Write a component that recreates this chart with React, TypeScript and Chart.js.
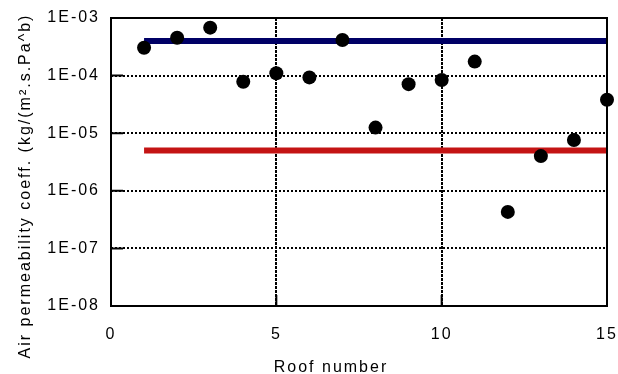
import React, { useEffect, useRef } from "react";
import { Chart, registerables } from "chart.js";

Chart.register(...registerables);

const roofNumbers = [1, 2, 3, 4, 5, 6, 7, 8, 9, 10, 11, 12, 13, 14, 15];
const permeability = [
  3.05e-4, 4.55e-4, 6.8e-4, 7.8e-5, 1.1e-4, 9.3e-5, 4.15e-4, 1.25e-5,
  7.1e-5, 8.4e-5, 1.75e-4, 4.3e-7, 4.0e-6, 7.6e-6, 3.8e-5,
];
const upperLimitX = [1, 15];
const upperLimitY = [4e-4, 4e-4];
const lowerLimitX = [1, 15];
const lowerLimitY = [5e-6, 5e-6];
const yTicks = [1e-8, 1e-7, 1e-6, 1e-5, 1e-4, 1e-3];
const xTicks = [0, 5, 10, 15];
const xTitle = "Roof number";
const yTitle = "Air permeability coeff. (kg/(m\u00B2.s.Pa^b)";

const FONT = "'Liberation Sans', Arial, sans-serif";

export default function App() {
  const ref = useRef<HTMLCanvasElement | null>(null);

  useEffect(() => {
    document.body.style.margin = "0";
    const canvas = ref.current!;
    const spacing = {
      id: "spacing",
      beforeInit(chart: any) {
        (chart.ctx as any).letterSpacing = "2px";
      },
      beforeUpdate(chart: any) {
        (chart.ctx as any).letterSpacing = "2px";
      },
      beforeDraw(chart: any) {
        (chart.ctx as any).letterSpacing = "2px";
      },
    };
    const frame = {
      id: "frame",
      afterDraw(chart: any) {
        const { ctx, chartArea: a, scales } = chart;
        ctx.save();
        ctx.strokeStyle = "#000";
        ctx.lineWidth = 2;
        ctx.setLineDash([]);
        ctx.strokeRect(a.left, a.top, a.right - a.left, a.bottom - a.top);
        ctx.beginPath();
        yTicks.forEach((v) => {
          const y = scales.y.getPixelForValue(v);
          ctx.moveTo(a.left, y);
          ctx.lineTo(a.left + 12, y);
        });
        xTicks.forEach((v) => {
          const x = scales.x.getPixelForValue(v);
          ctx.moveTo(x, a.bottom);
          ctx.lineTo(x, a.bottom - 11);
        });
        ctx.stroke();
        (ctx as any).letterSpacing = "2px";
        ctx.fillStyle = "#000";
        ctx.font = `16px ${FONT}`;
        ctx.textAlign = "center";
        ctx.textBaseline = "alphabetic";
        ctx.fillText(xTitle, 331, 372);
        ctx.translate(30, 187);
        ctx.rotate(-Math.PI / 2);
        ctx.fillText(yTitle, 1, 0);
        ctx.restore();
      },
    };

    const chart = new Chart(canvas, {
      type: "scatter",
      data: {
        datasets: [
          {
            type: "scatter",
            data: roofNumbers.map((x, i) => ({ x, y: permeability[i] })),
            backgroundColor: "#000",
            borderWidth: 0,
            pointRadius: 7,
            pointHoverRadius: 7,
            order: 0,
            clip: false as any,
          },
          {
            type: "line",
            data: upperLimitX.map((x, i) => ({ x, y: upperLimitY[i] })),
            borderColor: "#000066",
            borderWidth: 6,
            pointRadius: 0,
            order: 1,
          },
          {
            type: "line",
            data: lowerLimitX.map((x, i) => ({ x, y: lowerLimitY[i] })),
            borderColor: "#c41414",
            borderWidth: 6,
            pointRadius: 0,
            order: 1,
          },
        ],
      },
      options: {
        animation: false,
        responsive: false,
        events: [],
        layout: { padding: { left: 0, top: 18, right: 11, bottom: 0 } },
        plugins: {
          legend: { display: false },
          tooltip: { enabled: false },
        },
        scales: {
          x: {
            type: "linear",
            min: 0,
            max: 15,
            afterBuildTicks(scale: any) {
              scale.ticks = xTicks.map((v) => ({ value: v }));
            },
            afterFit(scale: any) {
              scale.height = 68;
              scale.paddingLeft = 0;
              scale.paddingRight = 0;
            },
            ticks: {
              color: "#000",
              font: { family: FONT, size: 16 },
              padding: 19,
              maxRotation: 0,
            },
            grid: {
              drawTicks: false,
              color: (c: any) =>
                c.tick && (c.tick.value === 0 || c.tick.value === 15)
                  ? "rgba(0,0,0,0)"
                  : "#000",
              lineWidth: 2,
            },
            border: { display: false, dash: [3, 1] },
          },
          y: {
            type: "logarithmic",
            min: 1e-8,
            max: 1e-3,
            afterBuildTicks(scale: any) {
              scale.ticks = yTicks.map((v) => ({ value: v }));
            },
            afterFit(scale: any) {
              scale.width = 111;
              scale.paddingTop = 0;
              scale.paddingBottom = 0;
            },
            ticks: {
              color: "#000",
              font: { family: FONT, size: 16 },
              padding: 11,
              callback: (v: any) => {
                const e = Math.round(Math.log10(Number(v)));
                return "1E-" + String(-e).padStart(2, "0");
              },
            },
            grid: {
              drawTicks: false,
              color: (c: any) =>
                c.index === 0 || c.index === yTicks.length - 1
                  ? "rgba(0,0,0,0)"
                  : "#000",
              lineWidth: 2,
            },
            border: { display: false, dash: [2, 2] },
          },
        },
      },
      plugins: [spacing, frame],
    } as any);
    return () => chart.destroy();
  }, []);

  return (
    <div style={{ width: 618, height: 374 }}>
      <canvas ref={ref} width={618} height={374} />
    </div>
  );
}
